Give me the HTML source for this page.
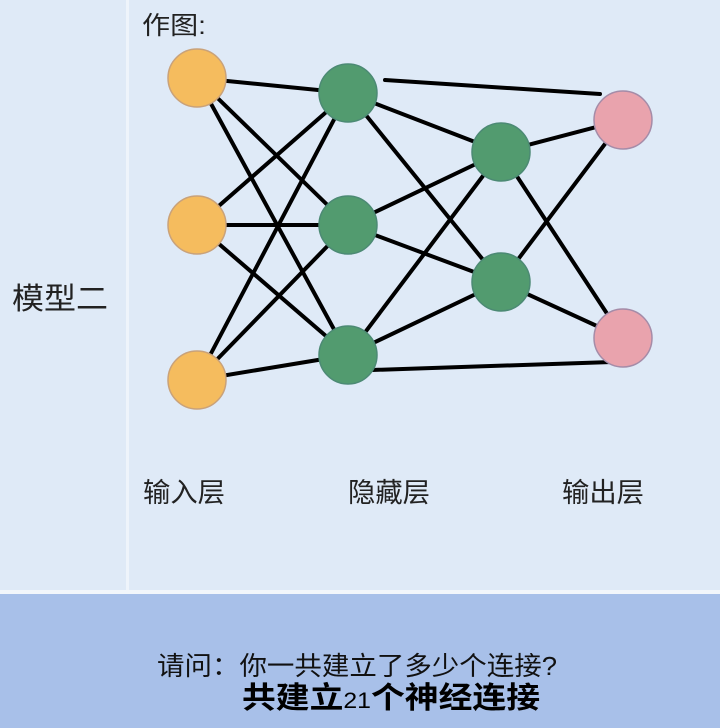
<!DOCTYPE html>
<html><head><meta charset="utf-8"><style>
body{margin:0;width:720px;height:728px;overflow:hidden;background:#dfeaf7;font-family:"Liberation Sans","Noto Sans CJK SC",sans-serif;}
</style></head><body>
<svg width="720" height="728" xmlns="http://www.w3.org/2000/svg" style="position:absolute;left:0;top:0">
<rect x="0" y="0" width="720" height="590" fill="#dfeaf7"/>
<rect x="126" y="0" width="3" height="590" fill="#eef4fb"/>
<rect x="0" y="590" width="720" height="4" fill="#f2f6fb"/>
<rect x="0" y="594" width="720" height="134" fill="#a8c0e9"/>
<g stroke="#000" stroke-width="4" stroke-linecap="round">
<line x1="197" y1="78" x2="348" y2="93"/><line x1="197" y1="78" x2="348" y2="225"/><line x1="197" y1="78" x2="348" y2="355"/>
<line x1="197" y1="225" x2="348" y2="93"/><line x1="197" y1="225" x2="348" y2="225"/><line x1="197" y1="225" x2="348" y2="355"/>
<line x1="197" y1="380" x2="348" y2="93"/><line x1="197" y1="380" x2="348" y2="225"/><line x1="197" y1="380" x2="348" y2="355"/>
<line x1="348" y1="93" x2="501" y2="152"/><line x1="348" y1="93" x2="501" y2="282"/>
<line x1="348" y1="225" x2="501" y2="152"/><line x1="348" y1="225" x2="501" y2="282"/>
<line x1="348" y1="355" x2="501" y2="152"/><line x1="348" y1="355" x2="501" y2="282"/>
<line x1="385" y1="80" x2="600" y2="94"/><line x1="372" y1="370" x2="612" y2="362"/>
<line x1="501" y1="152" x2="623" y2="120"/><line x1="501" y1="152" x2="623" y2="338"/>
<line x1="501" y1="282" x2="623" y2="120"/><line x1="501" y1="282" x2="623" y2="338"/>
</g>
<g stroke-width="1.5">
<circle cx="197" cy="78" r="29" fill="#f5bc5e" stroke="#c9a27a"/>
<circle cx="197" cy="225" r="29" fill="#f5bc5e" stroke="#c9a27a"/>
<circle cx="197" cy="380" r="29" fill="#f5bc5e" stroke="#c9a27a"/>
<circle cx="348" cy="93" r="29" fill="#529b6f" stroke="#4c8a74"/>
<circle cx="348" cy="225" r="29" fill="#529b6f" stroke="#4c8a74"/>
<circle cx="348" cy="355" r="29" fill="#529b6f" stroke="#4c8a74"/>
<circle cx="501" cy="152" r="29" fill="#529b6f" stroke="#4c8a74"/>
<circle cx="501" cy="282" r="29" fill="#529b6f" stroke="#4c8a74"/>
<circle cx="623" cy="120" r="29" fill="#e9a3ad" stroke="#a58ca8"/>
<circle cx="623" cy="338" r="29" fill="#e9a3ad" stroke="#a58ca8"/>
</g>
<g font-family="Liberation Sans, Noto Sans CJK SC, sans-serif" fill="#222">
<text x="142" y="34" font-size="25" textLength="64" lengthAdjust="spacingAndGlyphs">作图:</text>
<text x="12" y="309" font-size="30" textLength="96" lengthAdjust="spacingAndGlyphs">模型二</text>
<text x="143" y="502" font-size="27" textLength="82" lengthAdjust="spacingAndGlyphs">输入层</text>
<text x="348" y="502" font-size="27" textLength="82" lengthAdjust="spacingAndGlyphs">隐藏层</text>
<text x="562" y="502" font-size="27" textLength="82" lengthAdjust="spacingAndGlyphs">输出层</text>
<text x="157" y="675" font-size="26" fill="#111" textLength="400" lengthAdjust="spacingAndGlyphs">请问：你一共建立了多少个连接?</text>
<text x="242" y="708" font-size="30" font-weight="bold" fill="#000" textLength="298" lengthAdjust="spacingAndGlyphs">共建立<tspan font-size="22" font-weight="normal">21</tspan>个神经连接</text>
</g>
</svg>
</body></html>
